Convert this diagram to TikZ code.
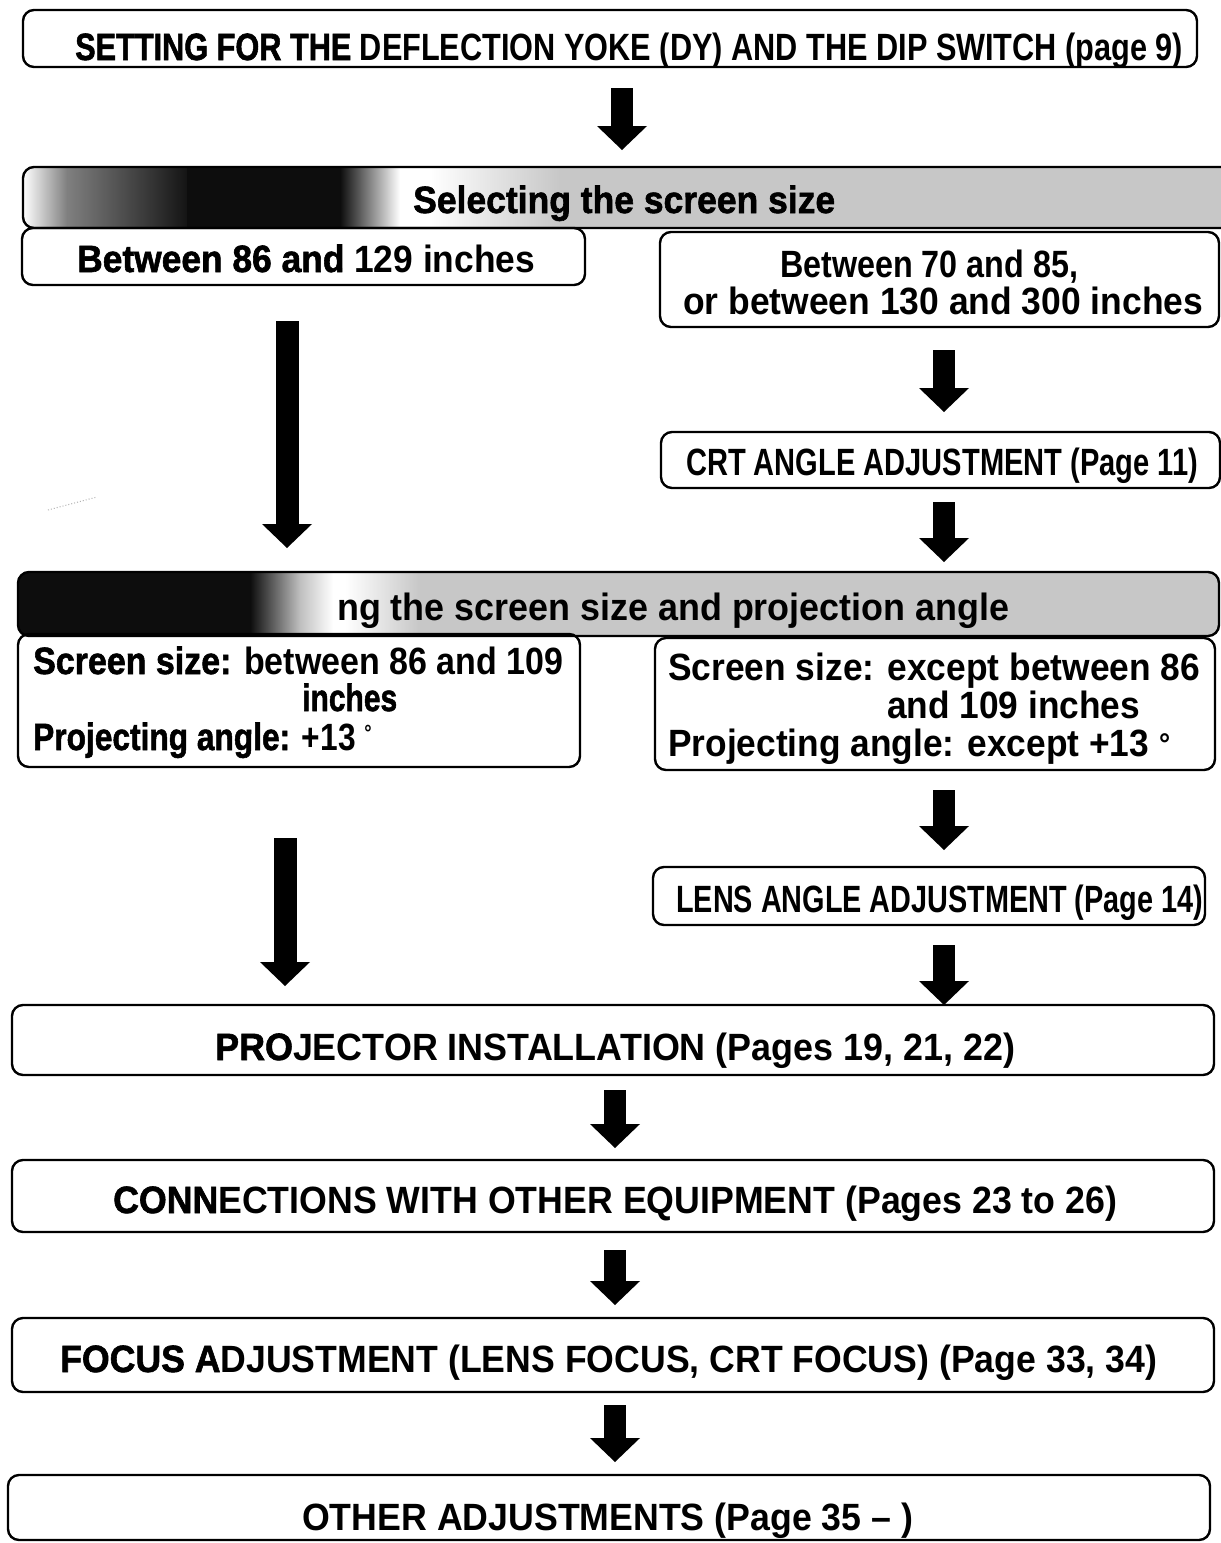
\documentclass[tikz,border=0pt]{standalone}
\usepackage{fontspec}
\usepackage{graphicx}
\setmainfont{Liberation Sans}
\newfontfamily\heavyfont{Liberation Sans}[FakeBold=1.6]
\usetikzlibrary{arrows.meta,fit}
\newsavebox\tbox
\newcommand\hfit[2]{\sbox\tbox{#2}\pgfmathsetmacro\hfr{#1/\the\wd\tbox}\scalebox{\hfr}[1]{\usebox\tbox}}
\newcommand\hv[1]{{\heavyfont\bfseries #1}}
\begin{document}
\begin{tikzpicture}[x=1pt,y=-1pt,
  box/.style={draw, line width=2.4pt, rounded corners=11pt, inner sep=0pt},
  txt/.style={anchor=base west, inner sep=0pt, font=\fontsize{38}{40}\selectfont\bfseries},
  barrow/.style={line width=22pt, -{Triangle[width=50pt,length=24pt,line width=0pt]}},
  stray/.style={black!30, line width=1pt, dotted}
]
\useasboundingbox (0,0) rectangle (1221,1543);
\fill[white] (0,0) rectangle (1221,1543);

% top box
\node[box, fit={(23,10) (1197,67)}] (b0) {};
\node[txt] (t0) at (75,60) {\hfit{1108}{\hv{SETTING FOR THE} DEFLECTION YOKE (DY) AND THE DIP SWITCH (page 9)}};

\coordinate (a1s) at (622,88); \coordinate (a1e) at (622,150);
\draw[barrow] (a1s) -- (a1e);

% bar 1
\begin{scope}
\clip[rounded corners=11pt] (23,167) rectangle (1260,228);
\fill[left color=white, right color=black!50] (23,167) rectangle (67,228);
\fill[left color=black!50, right color=black!92] (67,167) rectangle (187,228);
\fill[black!95] (187,167) rectangle (340,228);
\fill[left color=black!95, right color=white] (340,167) rectangle (400,228);
\fill[white] (400,167) rectangle (430,228);
\fill[left color=white, right color=black!22] (430,167) rectangle (560,228);
\fill[black!22] (560,167) rectangle (1260,228);
\end{scope}
\node[box, fit={(23,167) (1260,228)}] (bar1) {};
\node[txt] (t1) at (413,213) {\hfit{422}{\hv{Selecting the screen size}}};

% left / right of bar 1
\node[box, fit={(22,228) (585,285)}] (l1) {};
\node[txt] (t2) at (77,272) {\hfit{458}{\hv{Between 86 and} 129 inches}};
\node[box, fit={(660,232) (1219,327)}] (r1) {};
\node[txt] (t3) at (780,277) {\hfit{298}{Between 70 and 85,}};
\node[txt] (t4) at (683,314) {\hfit{520}{or between 130 and 300 inches}};

\coordinate (a2s) at (287,321); \coordinate (a2e) at (287,548);
\draw[barrow, line width=23pt] (a2s) -- (a2e);
\coordinate (a3s) at (944,350); \coordinate (a3e) at (944,412);
\draw[barrow] (a3s) -- (a3e);

\node[box, fit={(661,432) (1220,488)}] (crt) {};
\node[txt] (t5) at (686,475) {\hfit{512}{CRT ANGLE ADJUSTMENT (Page 11)}};

\coordinate (a4s) at (944,502); \coordinate (a4e) at (944,562);
\draw[barrow] (a4s) -- (a4e);

\draw[stray] (48,510) -- (97,497);

% bar 2
\begin{scope}
\clip[rounded corners=11pt] (18,572) rectangle (1219,636);
\fill[black!95] (18,572) rectangle (250,636);
\fill[left color=black!95, right color=black!25] (250,572) rectangle (300,636);
\fill[left color=black!25, right color=white] (300,572) rectangle (333,636);
\fill[white] (333,572) rectangle (345,636);
\fill[left color=white, right color=black!22] (345,572) rectangle (420,636);
\fill[black!22] (420,572) rectangle (1219,636);
\end{scope}
\node[box, fit={(18,572) (1219,636)}] (bar2) {};
\node[txt] (t6) at (337,620) {\hfit{672}{ng the screen size and projection angle}};

% left / right of bar 2
\node[box, fit={(18,634) (580,767)}] (l2) {};
\node[txt] (t7) at (33,674) {\hfit{530}{\hv{Screen size:} between 86 and 109}};
\node[txt] (t8) at (302,711) {\hfit{95}{\hv{inches}}};
\node[txt] (t9) at (33,750) {\hfit{339}{\hv{Projecting angle:} +13 \textsuperscript{\fontsize{22}{22}\selectfont°}}};
\node[box, fit={(655,638) (1215,770)}] (r2) {};
\node[txt] (t10) at (668,680) {\hfit{532}{Screen size: except between 86}};
\node[txt] (t11) at (887,718) {\hfit{253}{and 109 inches}};
\node[txt] (t12) at (668,756) {\hfit{502}{Projecting angle: except +13 \raisebox{2pt}{\fontsize{30}{30}\selectfont°}}};

\coordinate (a5s) at (944,790); \coordinate (a5e) at (944,850);
\draw[barrow] (a5s) -- (a5e);
\coordinate (a6s) at (285,838); \coordinate (a6e) at (285,986);
\draw[barrow, line width=23pt] (a6s) -- (a6e);

\node[box, fit={(653,867) (1205,925)}] (lens) {};
\node[txt] (t13) at (676,912) {\hfit{527}{LENS ANGLE ADJUSTMENT (Page 14)}};

\coordinate (a7s) at (944,945); \coordinate (a7e) at (944,1005);
\draw[barrow] (a7s) -- (a7e);

\node[box, fit={(12,1005) (1214,1075)}] (proj) {};
\node[txt] (t14) at (215,1060) {\hfit{800}{\hv{PRO}JECTOR INSTALLATION (Pages 19, 21, 22)}};

\coordinate (a8s) at (615,1090); \coordinate (a8e) at (615,1148);
\draw[barrow] (a8s) -- (a8e);

\node[box, fit={(12,1160) (1214,1232)}] (conn) {};
\node[txt] (t15) at (113,1213) {\hfit{1004}{\hv{CONN}ECTIONS WITH OTHER EQUIPMENT (Pages 23 to 26)}};

\coordinate (a9s) at (615,1250); \coordinate (a9e) at (615,1305);
\draw[barrow] (a9s) -- (a9e);

\node[box, fit={(12,1318) (1214,1392)}] (focus) {};
\node[txt] (t16) at (60,1372) {\hfit{1097}{\hv{FOCUS A}DJUSTMENT (LENS FOCUS, CRT FOCUS) (Page 33, 34)}};

\coordinate (a10s) at (615,1405); \coordinate (a10e) at (615,1462);
\draw[barrow] (a10s) -- (a10e);

\node[box, fit={(8,1475) (1210,1540)}] (other) {};
\node[txt] (t17) at (302,1530) {\hfit{611}{OTHER ADJUSTMENTS (Page 35 -- )}};
\end{tikzpicture}
\end{document}
